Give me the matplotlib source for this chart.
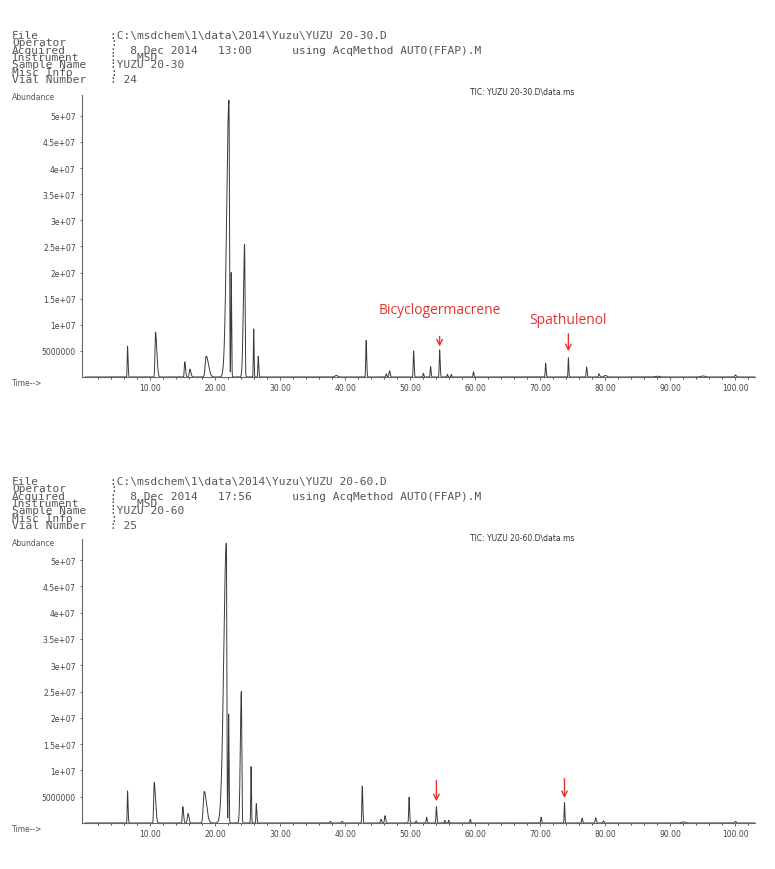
import matplotlib.pyplot as plt
import numpy as np

W, H = 775, 870

# peak tables (time min, height 1e6, left/right width)
top_rt = [6.5, 10.8, 15.3, 16.1, 18.6, 22.1, 22.45, 24.5, 25.9, 26.6, 38.6, 43.2, 46.3, 46.8,
          50.5, 52.0, 53.1, 54.5, 55.7, 56.3, 59.7, 70.8, 74.3, 77.1, 79.0, 80.0, 88.0, 95.0, 100.0]
top_h = [5.9, 8.6, 2.9, 1.5, 4.0, 53.0, 20.0, 25.4, 9.2, 4.0, 0.3, 7.0, 0.6, 1.2,
         5.0, 0.7, 2.0, 5.2, 0.5, 0.5, 1.0, 2.6, 3.7, 1.9, 0.6, 0.3, 0.15, 0.2, 0.4]
top_wl = [0.05, 0.08, 0.07, 0.10, 0.15, 0.35, 0.05, 0.18, 0.05, 0.05, 0.2, 0.06, 0.08, 0.08,
          0.06, 0.06, 0.06, 0.06, 0.06, 0.06, 0.06, 0.06, 0.05, 0.06, 0.08, 0.2, 0.3, 0.3, 0.1]
top_wr = [0.08, 0.20, 0.12, 0.15, 0.35, 0.07, 0.06, 0.07, 0.06, 0.08, 0.2, 0.08, 0.08, 0.10,
          0.08, 0.06, 0.08, 0.08, 0.06, 0.06, 0.08, 0.08, 0.06, 0.08, 0.10, 0.2, 0.3, 0.3, 0.1]

bot_rt = [6.5, 10.6, 15.0, 15.8, 18.3, 21.7, 22.05, 24.0, 25.5, 26.3, 37.7, 39.5, 42.6, 45.5, 46.1,
          49.8, 50.9, 52.5, 54.0, 55.3, 55.9, 59.2, 70.1, 73.7, 76.4, 78.5, 79.7, 92.0, 100.0]
bot_h = [6.1, 7.7, 3.1, 1.8, 6.0, 53.2, 20.7, 25.0, 10.7, 3.7, 0.3, 0.3, 7.0, 0.7, 1.4,
         4.9, 0.4, 1.1, 3.1, 0.5, 0.5, 0.7, 1.1, 3.9, 0.9, 1.0, 0.4, 0.2, 0.3]
bot_wl = [0.05, 0.08, 0.07, 0.10, 0.15, 0.40, 0.05, 0.15, 0.05, 0.05, 0.1, 0.1, 0.06, 0.08, 0.08,
          0.06, 0.06, 0.06, 0.06, 0.06, 0.06, 0.06, 0.06, 0.05, 0.06, 0.08, 0.08, 0.3, 0.1]
bot_wr = [0.08, 0.20, 0.12, 0.15, 0.35, 0.07, 0.06, 0.07, 0.06, 0.08, 0.1, 0.1, 0.08, 0.08, 0.10,
          0.08, 0.06, 0.08, 0.08, 0.06, 0.06, 0.08, 0.08, 0.06, 0.08, 0.10, 0.08, 0.3, 0.1]

ytick_vals = [5e6, 1e7, 1.5e7, 2e7, 2.5e7, 3e7, 3.5e7, 4e7, 4.5e7, 5e7]
ytick_labels = ['5000000', '1e+07', '1.5e+07', '2e+07', '2.5e+07', '3e+07',
                '3.5e+07', '4e+07', '4.5e+07', '5e+07']
xtick_vals = [10, 20, 30, 40, 50, 60, 70, 80, 90, 100]

head_labels = ['File', 'Operator', 'Acquired', 'Instrument', 'Sample Name', 'Misc Info', 'Vial Number']
method = 'using AcqMethod AUTO(FFAP).M'
top_info = ['C:\\msdchem\\1\\data\\2014\\Yuzu\\YUZU 20-30.D', '',
            '  8 Dec 2014   13:00'.ljust(26) + method, '   MSD', 'YUZU 20-30', '', ' 24']
bot_info = ['C:\\msdchem\\1\\data\\2014\\Yuzu\\YUZU 20-60.D', '',
            '  8 Dec 2014   17:56'.ljust(26) + method, '   MSD', 'YUZU 20-60', '', ' 25']
top_tic = 'TIC: YUZU 20-30.D\\data.ms'
bot_tic = 'TIC: YUZU 20-60.D\\data.ms'

# compound marks: name, time, arrow tail, arrow tip, label height
top_marks = [('Bicyclogermacrene', 54.5, 8.3e6, 5.3e6, 13.0e6), ('Spathulenol', 74.3, 8.8e6, 4.4e6, 11.0e6)]
bot_marks = [('', 54.0, 8.6e6, 3.6e6, 0), ('', 73.7, 9.0e6, 4.2e6, 0)]

red = '#e8322e'
gray = '#555555'


def trace(t, rt, h, wl, wr):
    y = np.zeros_like(t)
    for c, a, sl, sr in zip(rt, h, wl, wr):
        s = np.where(t < c, sl, sr)
        y += a * 1e6 * np.exp(-0.5 * ((t - c) / s) ** 2)
    return y


def header(yc, info, tic_y, tic):
    mono = dict(family='DejaVu Sans Mono', size=8, color=gray, va='center', linespacing=0.66)
    fig.text(12 / W, 1 - yc / H, '\n'.join(head_labels), **mono)
    fig.text(110 / W, 1 - yc / H, '\n'.join(':' + v for v in info), **mono)
    fig.text(12 / W, 1 - (tic_y + 5) / H, 'Abundance', size=5.5, color=gray, va='center')
    fig.text(470 / W, 1 - tic_y / H, tic, size=5.5, color='#333333', va='center')


def panel(rect, rt, h, wl, wr, marks, time_y):
    ax = fig.add_axes(rect)
    t = np.linspace(0, 103, 40000)
    ax.plot(t, trace(t, rt, h, wl, wr), color='#3a3a3a', lw=0.7)
    ax.set_xlim(-0.5, 103)
    ax.set_ylim(0, 5.4e7)
    ax.set_yticks(ytick_vals)
    ax.set_yticklabels(ytick_labels)
    ax.set_xticks(xtick_vals)
    ax.set_xticklabels(['%.2f' % v for v in xtick_vals])
    ax.set_xticks(np.arange(2, 103, 2), minor=True)
    ax.tick_params(axis='both', labelsize=5.5, labelcolor='#444444', color=gray, width=0.6)
    ax.tick_params(axis='y', length=1.5, pad=3)
    ax.tick_params(axis='x', which='major', length=2.5, pad=2)
    ax.tick_params(axis='x', which='minor', length=1.5, width=0.5)
    for s in ['top', 'right']:
        ax.spines[s].set_visible(False)
    for s in ['left', 'bottom']:
        ax.spines[s].set_color('#666666')
        ax.spines[s].set_linewidth(0.8)
    for name, x, tail, tip, ty in marks:
        ax.annotate('', xy=(x, tip), xytext=(x, tail),
                    arrowprops=dict(arrowstyle='->', color=red, lw=1.0, mutation_scale=10))
        if name:
            ax.text(x, ty, name, color=red, family='Open Sans', size=10, ha='center', va='center')
    fig.text(12 / W, 1 - time_y / H, 'Time-->', size=5.5, color=gray, va='center')
    return ax


fig = plt.figure(figsize=(W / 100, H / 100), dpi=100)

header(58, top_info, 92, top_tic)
panel([82 / W, 1 - 378 / H, 673 / W, 282 / H], top_rt, top_h, top_wl, top_wr, top_marks, 383)

header(504, bot_info, 538, bot_tic)
panel([82 / W, 1 - 824 / H, 673 / W, 284 / H], bot_rt, bot_h, bot_wl, bot_wr, bot_marks, 830)

fig.savefig('out.png', dpi=100)
